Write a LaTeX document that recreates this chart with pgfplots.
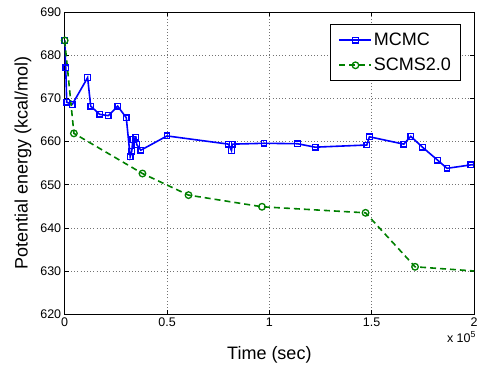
\documentclass[border=0pt]{standalone}
\usepackage{pgfplots}
\pgfplotsset{compat=1.18}
\usepackage{fontspec}
\setmainfont{Liberation Sans}
\definecolor{mblue}{rgb}{0,0,1}
\definecolor{mgreen}{rgb}{0,0.5,0}
\begin{document}
\begin{tikzpicture}
\begin{axis}[
  scale only axis,
  width=409.3bp, height=302.3bp,
  xmin=0, xmax=2, ymin=620, ymax=690,
  xtick={0,0.5,1,1.5,2},
  xticklabels={0,0.5,1,1.5,2},
  ytick={620,630,...,690},
  /pgf/number format/assume math mode=true,
  tick label style={font=\fontsize{12.5bp}{14bp}\selectfont},
  tick align=inside,
  major tick length=4bp,
  xtick pos=both, ytick pos=both,
  grid=major,
  grid style={dash pattern=on 0.8bp off 2.4bp, black!55, line width=0.6bp},
  axis line style={line width=0.8bp},
  every tick/.style={black, line width=0.6bp},
  xlabel={Time (sec)},
  ylabel={Potential energy (kcal/mol)},
  every axis x label/.style={at={(axis description cs:0.5,-0.1346)}, anchor=center, font=\fontsize{18bp}{20bp}\selectfont},
  every axis y label/.style={at={(axis description cs:-0.102,0.5)}, rotate=90, anchor=center, font=\fontsize{18bp}{20bp}\selectfont},
  legend style={at={(axis description cs:0.9675,0.9593)}, anchor=north east,
    font=\fontsize{18bp}{20bp}\selectfont, draw=black, line width=0.8bp,
    nodes={inner sep=1.5bp},
    inner xsep=8bp, inner ysep=7bp, row sep=8bp},
  legend cell align=left,
  legend image code/.code={\draw[mark repeat=2,mark phase=2,#1] plot coordinates {(0bp,0bp) (16bp,0bp) (32bp,0bp)};},
]
\addplot[mblue, line width=1.6bp, mark=square, mark size=2.8bp, mark options={solid, line width=1.3bp}] coordinates {
(0,683.4) (0.005,677.1) (0.01,669.1) (0.037,668.6) (0.112,674.8) (0.127,668.2)
(0.171,666.3) (0.213,666.0) (0.259,668.2) (0.301,665.5) (0.320,656.5) (0.328,657.8)
(0.333,660.5) (0.348,661.0) (0.352,659.3) (0.372,658.0) (0.500,661.3) (0.801,659.4)
(0.815,657.9) (0.819,659.4) (0.974,659.6) (1.137,659.5) (1.224,658.7) (1.476,659.2)
(1.489,661.1) (1.657,659.4) (1.691,661.2) (1.748,658.7) (1.822,655.7) (1.868,653.8)
(1.985,654.6) (2.05,654.9)
};
\addlegendentry{MCMC}
\addplot[mgreen, line width=1.6bp, dash pattern=on 6bp off 4bp, mark=o, mark size=3.3bp, mark options={solid, line width=1.3bp}] coordinates {
(0,683.4) (0.045,661.9) (0.380,652.6) (0.605,647.6) (0.964,644.9) (1.470,643.5)
(1.712,631.0) (2.1,629.7)
};
\addlegendentry{SCMS2.0}
\end{axis}
\node[anchor=base east, font=\fontsize{12.5bp}{14bp}\selectfont, inner sep=0pt] at (411.5bp,-28bp) {x 10\textsuperscript{5}};
\pgfresetboundingbox
\path[use as bounding box] (-64.7bp,-50.7bp) rectangle (412.3bp,314.3bp);
\end{tikzpicture}
\end{document}
